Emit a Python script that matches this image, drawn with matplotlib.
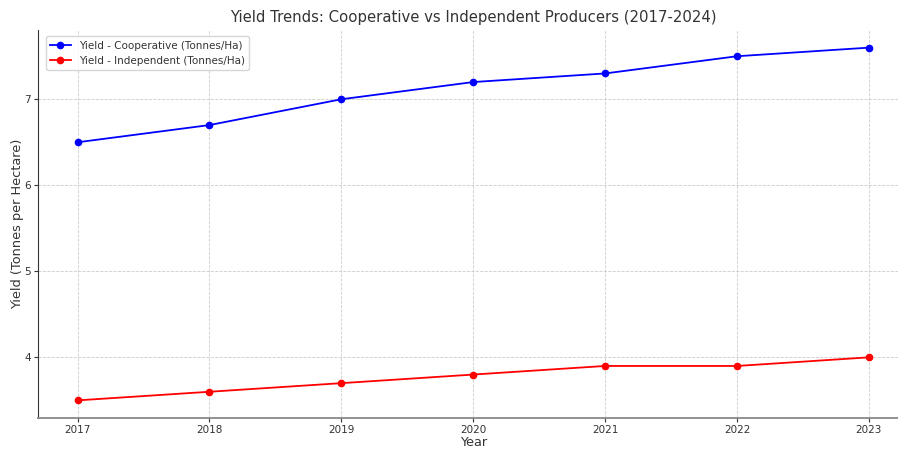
import matplotlib
matplotlib.use("Agg")
import matplotlib.pyplot as plt

years = [2017, 2018, 2019, 2020, 2021, 2022, 2023]
coop = [6.5, 6.7, 7.0, 7.2, 7.3, 7.5, 7.6]
indep = [3.5, 3.6, 3.7, 3.8, 3.9, 3.9, 4.0]
labels = ["Yield - Cooperative (Tonnes/Ha)", "Yield - Independent (Tonnes/Ha)"]
title = "Yield Trends: Cooperative vs Independent Producers (2017-2024)"

W, H = 898, 449
fig = plt.figure(figsize=(W / 100, H / 100), dpi=100)
ax = fig.add_axes([38 / W, (H - 418) / H, (908.5 - 38) / W, (418 - 30) / H])

ax.plot(years, coop, color="blue", marker="o", markersize=4.5, linewidth=1.3, label=labels[0])
ax.plot(years, indep, color="red", marker="o", markersize=4.5, linewidth=1.3, label=labels[1])

ax.set_xticks(years)
ax.set_yticks([4, 5, 6, 7])
ax.tick_params(labelsize=7.5, colors="#333333", length=3, pad=2)
ax.grid(True, linestyle="--", linewidth=0.6, color="#cccccc")
ax.set_axisbelow(True)
for s in ["top", "right"]:
    ax.spines[s].set_visible(False)
ax.spines["left"].set_color("#333333")
ax.spines["bottom"].set_color("#888888")
ax.spines["bottom"].set_linewidth(1.3)

ax.set_xlabel("Year", fontsize=9.3, color="#333333", labelpad=1)
ax.set_ylabel("Yield (Tonnes per Hectare)", fontsize=9.3, color="#333333", labelpad=0)
ax.set_title(title, fontsize=10.7, color="#333333", pad=6)
leg = ax.legend(loc="upper left", fontsize=7.5, frameon=True, bbox_to_anchor=(0.003, 0.997))
for t in leg.get_texts():
    t.set_color("#333333")

fig.text(78 / W, 1 + 2 / H, "(Tonnes/Hectare)", fontsize=12, color="#333333", va="baseline")

fig.savefig("out.png", dpi=100)
